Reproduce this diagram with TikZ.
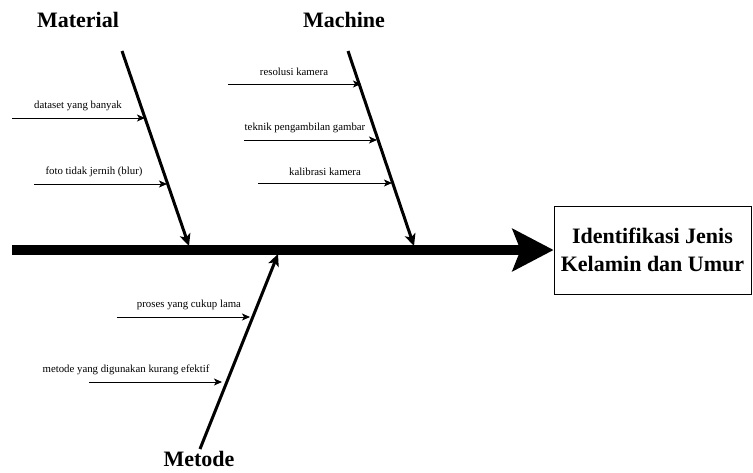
\documentclass[tikz,border=0pt]{standalone}
\usepackage{fontspec}
\setmainfont{Liberation Serif}
\usetikzlibrary{arrows.meta}
\begin{document}
\begin{tikzpicture}[x=1pt,y=-1pt,
  title/.style={font=\fontsize{22}{26}\selectfont\bfseries, inner sep=0pt},
  cause/.style={font=\fontsize{10.8}{12}\selectfont, inner sep=0pt},
  bone/.style={line width=3pt, -{Stealth[length=12pt 0 0,width=11pt 0 0,inset=3pt]}},
  sub/.style={line width=1pt, -{Stealth[length=8pt 0 0,width=7pt 0 0,inset=2pt]}},
  effect/.style={draw, line width=0.8pt, minimum width=197pt, minimum height=88pt, align=center,
    font=\fontsize{22}{28}\selectfont\bfseries, inner sep=0pt}]
\useasboundingbox (0,0) rectangle (753,472);
% effect box
\node[effect] (E) at (652.5,250) {Identifikasi Jenis\\Kelamin dan Umur};
% spine
\coordinate (S0) at (12,250);
\draw[line width=10pt, -{Stealth[length=41pt 0 0,width=42pt 0 0,inset=8pt]}] (S0) -- (E.west);
% titles
\node[title] (tMat) at (78,20) {Material};
\node[title] (tMac) at (344,20) {Machine};
\node[title] (tMet) at (199,459) {Metode};
% bones
\coordinate (m0) at (122,51);
\coordinate (m1) at (189,246);
\coordinate (c0) at (348,51);
\coordinate (c1) at (414,246);
\coordinate (d0) at (200,449);
\coordinate (d1) at (278,254);
\draw[bone] (m0) -- (m1);
\draw[bone] (c0) -- (c1);
\draw[bone] (d0) -- (d1);
% material causes
\coordinate (a1) at (12,118);   \coordinate (a1e) at (145,118);
\coordinate (a2) at (34,184);   \coordinate (a2e) at (167,184);
\draw[sub] (a1) -- (a1e);
\draw[sub] (a2) -- (a2e);
\node[cause] (la1) at (78,106) {dataset yang banyak};
\node[cause] (la2) at (94,172) {foto tidak jernih (blur)};
% machine causes
\coordinate (b1) at (228,84);   \coordinate (b1e) at (361,84);
\coordinate (b2) at (244,140);  \coordinate (b2e) at (377,140);
\coordinate (b3) at (258,183);  \coordinate (b3e) at (392,183);
\draw[sub] (b1) -- (b1e);
\draw[sub] (b2) -- (b2e);
\draw[sub] (b3) -- (b3e);
\node[cause] (lb1) at (294,72) {resolusi kamera};
\node[cause] (lb2) at (305,128) {teknik pengambilan gambar};
\node[cause] (lb3) at (325,172) {kalibrasi kamera};
% metode causes
\coordinate (e1) at (117,317);  \coordinate (e1e) at (250,317);
\coordinate (e2) at (89,382);   \coordinate (e2e) at (222,382);
\draw[sub] (e1) -- (e1e);
\draw[sub] (e2) -- (e2e);
\node[cause] (le1) at (189,305) {proses yang cukup lama};
\node[cause] (le2) at (126,370) {metode yang digunakan kurang efektif};
\end{tikzpicture}
\end{document}
